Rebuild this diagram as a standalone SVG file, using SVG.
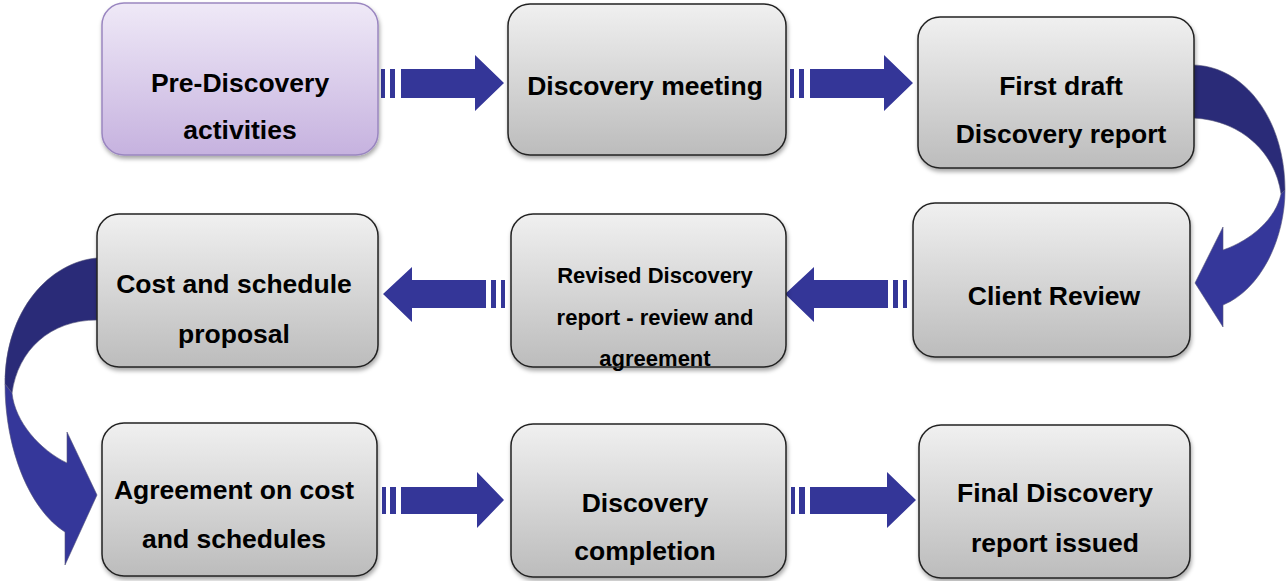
<svg xmlns="http://www.w3.org/2000/svg" width="1286" height="581" viewBox="0 0 1286 581">
  <defs>
    <linearGradient id="gGray" x1="0" y1="0" x2="0" y2="1">
      <stop offset="0" stop-color="#f0f0f0"/>
      <stop offset="1" stop-color="#bcbcbc"/>
    </linearGradient>
    <linearGradient id="gPurple" x1="0" y1="0" x2="0" y2="1">
      <stop offset="0" stop-color="#efe9f7"/>
      <stop offset="1" stop-color="#c6b2df"/>
    </linearGradient>
    <filter id="shadow" x="-10%" y="-10%" width="120%" height="130%">
      <feDropShadow dx="1" dy="3" stdDeviation="2" flood-color="#000" flood-opacity="0.35"/>
    </filter>
  </defs>
  <style>
    .box { fill: url(#gGray); stroke: #222; stroke-width: 1.5; filter: url(#shadow); }
    .box-start { fill: url(#gPurple); stroke: #9a86c0; stroke-width: 1.5; filter: url(#shadow); }
    .label { font-family: "Liberation Sans", Arial, sans-serif; font-weight: bold; font-size: 26.5px; fill: #000; text-anchor: middle; }
    .small { font-size: 22px; }
    .arrow { fill: #343698; }
    .back { fill: #2a2b78; stroke: #55557a; stroke-width: 0.6; }
    .front { fill: #35379a; stroke: #55557a; stroke-width: 0.6; }
  </style>

  <!-- connectors -->
  <g id="connectors">
    <!-- straight block arrows: two stripes, a body and a head -->
    <g id="a-1-2" class="arrow">
      <rect x="381" y="69" width="4" height="29"/>
      <rect x="390" y="69" width="5" height="29"/>
      <polygon points="401,69 475,69 475,55 504,83 475,111 475,98 401,98"/>
    </g>
    <g id="a-2-3" class="arrow">
      <rect x="790" y="69" width="4" height="29"/>
      <rect x="799" y="69" width="5" height="29"/>
      <polygon points="810,69 884,69 884,55 913,83 884,111 884,98 810,98"/>
    </g>
    <g id="a-4-5" class="arrow">
      <rect x="903" y="280" width="4" height="28"/>
      <rect x="893" y="280" width="5" height="28"/>
      <polygon points="888,280 814,280 814,267 785,294 814,322 814,308 888,308"/>
    </g>
    <g id="a-5-6" class="arrow">
      <rect x="501" y="280" width="4" height="28"/>
      <rect x="491" y="280" width="5" height="28"/>
      <polygon points="486,280 412,280 412,267 383,294 412,322 412,308 486,308"/>
    </g>
    <g id="a-7-8" class="arrow">
      <rect x="382" y="487" width="4" height="27"/>
      <rect x="390" y="487" width="6" height="27"/>
      <polygon points="401,487 477,487 477,472 504,500 477,528 477,514 401,514"/>
    </g>
    <g id="a-8-9" class="arrow">
      <rect x="791" y="487" width="4" height="27"/>
      <rect x="799" y="487" width="6" height="27"/>
      <polygon points="810,487 887,487 887,472 916,500 887,528 887,514 810,514"/>
    </g>

    <!-- curved arrow: First draft to Client Review -->
    <g id="a-3-4">
      <path class="back" d="M1193,65 C1245,66 1285,120 1285,190 L1281,194 C1276,155 1243,120 1193,118 Z"/>
      <path class="front" d="M1285,190 C1285,240 1260,290 1223,305 L1223,327 L1195,283 L1223,227 L1223,250 C1252,240 1276,218 1281,194 Z"/>
    </g>
    <!-- curved arrow: Cost and schedule proposal to Agreement -->
    <g id="a-6-7">
      <path class="back" d="M97,258 C50,262 5,310 5,384 L12,393 C18,350 50,320 97,320 Z"/>
      <path class="front" d="M5,384 C5,450 30,510 65,532 L65,565 L97,495 L67,432 L67,463 C40,450 15,422 12,393 Z"/>
    </g>
  </g>

  <!-- nodes -->
  <g id="n-pre-discovery">
    <rect class="box-start" x="102" y="3" width="276" height="152" rx="22"/>
    <text class="label" x="240" y="92">Pre-Discovery</text>
    <text class="label" x="240" y="139">activities</text>
  </g>
  <g id="n-discovery-meeting">
    <rect class="box" x="508" y="4" width="278" height="151" rx="22"/>
    <text class="label" x="645" y="95">Discovery meeting</text>
  </g>
  <g id="n-first-draft">
    <rect class="box" x="918" y="17" width="276" height="151" rx="22"/>
    <text class="label" x="1061" y="95">First draft</text>
    <text class="label" x="1061" y="143">Discovery report</text>
  </g>
  <g id="n-client-review">
    <rect class="box" x="913" y="203" width="277" height="154" rx="22"/>
    <text class="label" x="1054" y="305">Client Review</text>
  </g>
  <g id="n-revised">
    <rect class="box" x="511" y="214" width="275" height="153" rx="22"/>
    <text class="label small" x="655" y="283">Revised Discovery</text>
    <text class="label small" x="655" y="325">report - review and</text>
    <text class="label small" x="655" y="366">agreement</text>
  </g>
  <g id="n-cost-proposal">
    <rect class="box" x="97" y="214" width="281" height="153" rx="22"/>
    <text class="label" x="234" y="293">Cost and schedule</text>
    <text class="label" x="234" y="343">proposal</text>
  </g>
  <g id="n-agreement">
    <rect class="box" x="102" y="423" width="275" height="153" rx="22"/>
    <text class="label" x="234" y="499">Agreement on cost</text>
    <text class="label" x="234" y="548">and schedules</text>
  </g>
  <g id="n-completion">
    <rect class="box" x="511" y="424" width="275" height="153" rx="22"/>
    <text class="label" x="645" y="512">Discovery</text>
    <text class="label" x="645" y="560">completion</text>
  </g>
  <g id="n-final-report">
    <rect class="box" x="919" y="425" width="271" height="153" rx="22"/>
    <text class="label" x="1055" y="502">Final Discovery</text>
    <text class="label" x="1055" y="552">report issued</text>
  </g>
</svg>
